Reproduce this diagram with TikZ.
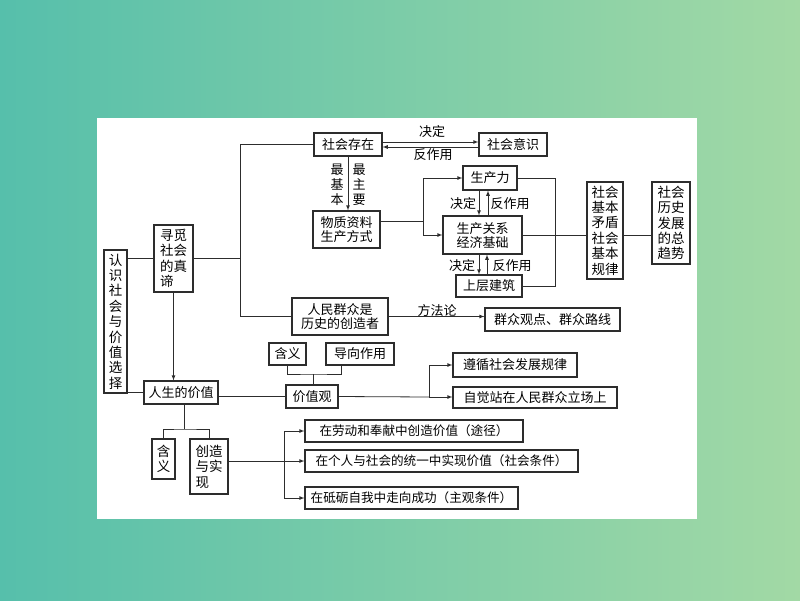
\documentclass[tikz,border=0pt]{standalone}
\usepackage{fontspec}
\newfontfamily\cjk{Noto Sans CJK SC}
\definecolor{bgleft}{RGB}{86,191,171}
\definecolor{bgright}{RGB}{162,217,165}
\definecolor{ink}{RGB}{45,45,45}
\begin{document}
\begin{tikzpicture}[x=1pt,y=1pt,>=latex,
		box/.style={draw=ink, line width=1.1pt, inner sep=1pt, align=center, text=black, font=\cjk\fontsize{13}{14}\selectfont},
		longbox/.style={box, font=\cjk\fontsize{12.6}{14}\selectfont},
		vbox/.style={box, font=\cjk\fontsize{13.5}{15.4}\selectfont},
		lbl/.style={inner sep=0pt, align=center, text=black, font=\cjk\fontsize{13}{15}\selectfont},
		link/.style={draw=ink, line width=0.8pt}]
		\useasboundingbox (0,0) rectangle (800,-600);
		\shade[left color=bgleft, right color=bgright] (0,0) rectangle (800,-600);
		\fill[white] (97,-118) rectangle (697,-519);
		\node[vbox, minimum width=23, minimum height=143] (renshi) at (115.5,-321.5) {认\\识\\社\\会\\与\\价\\值\\选\\择};
		\node[vbox, align=left, minimum width=39, minimum height=67] (xunmi) at (173.5,-258.5) {寻觅\\社会\\的真\\谛};
		\node[box, minimum width=68, minimum height=23] (cunzai) at (348,-144.5) {社会存在};
		\node[box, minimum width=68, minimum height=23] (yishi) at (513,-144.5) {社会意识};
		\node[box, minimum width=67, minimum height=37] (wuzhi) at (346.5,-229.5) {物质资料\\生产方式};
		\node[box, minimum width=54, minimum height=24] (shengchanli) at (490,-178) {生产力};
		\node[box, minimum width=79, minimum height=38] (guanxi) at (482.5,-235) {生产关系\\经济基础};
		\node[box, minimum width=66, minimum height=22] (shangceng) at (489,-286) {上层建筑};
		\node[vbox, minimum width=36, minimum height=97] (maodun) at (605,-230.5) {社会\\基本\\矛盾\\社会\\基本\\规律};
		\node[vbox, minimum width=38, minimum height=82] (qushi) at (671,-223) {社会\\历史\\发展\\的总\\趋势};
		\node[box, minimum width=96, minimum height=37] (renmin) at (340,-316.5) {人民群众是\\历史的创造者};
		\node[box, minimum width=135, minimum height=23] (qunzhong) at (552.5,-319.5) {群众观点、群众路线};
		\node[box, minimum width=37, minimum height=22] (hanyi1) at (287.5,-354) {含义};
		\node[box, minimum width=68, minimum height=22] (daoxiang) at (360,-354) {导向作用};
		\node[box, minimum width=52, minimum height=23] (jiazhiguan) at (312,-396.5) {价值观};
		\node[box, minimum width=124, minimum height=24] (zunxun) at (515,-365) {遵循社会发展规律};
		\node[box, minimum width=164, minimum height=21] (zijue) at (535,-397.5) {自觉站在人民群众立场上};
		\node[box, minimum width=74, minimum height=23] (rensheng) at (181,-392.5) {人生的价值};
		\node[vbox, minimum width=23, minimum height=40] (hanyi2) at (163.5,-459) {含\\义};
		\node[vbox, align=left, minimum width=38, minimum height=55] (chuangzao) at (209,-466.5) {创造\\与实\\现};
		\node[longbox, minimum width=218, minimum height=22] (laodong) at (414,-431) {在劳动和奉献中创造价值（途径）};
		\node[longbox, minimum width=273, minimum height=22] (geren) at (441.5,-461) {在个人与社会的统一中实现价值（社会条件）};
		\node[longbox, minimum width=213, minimum height=22] (dili) at (411.5,-498) {在砥砺自我中走向成功（主观条件）};
		\node[lbl] (jueding1) at (432,-132) {决定};
		\node[lbl] (fanzuo1) at (433,-155) {反作用};
		\node[lbl] (zuijiben) at (337,-185) {最\\基\\本};
		\node[lbl] (zuizhuyao) at (359,-185) {最\\主\\要};
		\node[lbl] (jueding2) at (463,-204) {决定};
		\node[lbl] (fanzuo2) at (510,-204) {反作用};
		\node[lbl] (jueding3) at (462,-266) {决定};
		\node[lbl] (fanzuo3) at (512,-266) {反作用};
		\node[lbl] (fangfalun) at (437,-311) {方法论};
		\coordinate (trunk) at (240,0);
		\coordinate (fork1) at (423,-221);
		\coordinate (join1) at (313,-374);
		\coordinate (fork2) at (429,-397);
		\coordinate (join2) at (184,-429);
		\coordinate (fork3) at (284,-461);
		\draw[link] (renshi.east |- xunmi.west) -- (xunmi.west);
		\draw[link] (renshi.east |- rensheng.west) -- (rensheng.west);
		\draw[link] (xunmi.east) -- (xunmi.east -| trunk);
		\draw[link] (cunzai.west) -- (cunzai.west -| trunk) -- (renmin.west -| trunk) -- (renmin.west);
		\draw[link,->] (xunmi.south) -- (xunmi.south |- rensheng.north);
		\draw[link,->] ([yshift=2.5]cunzai.east) -- ([yshift=2.5]yishi.west);
		\draw[link,->] ([yshift=-2.5]yishi.west) -- ([yshift=-2.5]cunzai.east);
		\draw[link,->] (cunzai.south) -- (cunzai.south |- wuzhi.north);
		\draw[link] ([yshift=8.5]wuzhi.east) -- (fork1);
		\draw[link,->] (fork1) |- (shengchanli.west);
		\draw[link,->] (fork1) |- (guanxi.west);
		\draw[link,->] ([xshift=-11]shengchanli.south) -- ([xshift=-11]shengchanli.south |- guanxi.north);
		\draw[link,->] ([xshift=-2]shengchanli.south |- guanxi.north) -- ([xshift=-2]shengchanli.south);
		\draw[link,->] ([xshift=-10]shangceng.north |- guanxi.south) -- ([xshift=-10]shangceng.north);
		\draw[link,->] ([xshift=-2]shangceng.north) -- ([xshift=-2]shangceng.north |- guanxi.south);
		\draw[link] (shengchanli.east) -- ++(38,0) |- (shangceng.east);
		\draw[link] (guanxi.east) -- (guanxi.east -| maodun.west);
		\draw[link] (maodun.east |- guanxi.east) -- (qushi.west |- guanxi.east);
		\draw[link,->] (renmin.east) -- (renmin.east -| qunzhong.west);
		\draw[link] (hanyi1.south) |- (join1) -| ([xshift=-19]daoxiang.south);
		\draw[link] (join1) -- (join1 |- jiazhiguan.north);
		\draw[link] (rensheng.east |- jiazhiguan.west) -- (jiazhiguan.west);
		\draw[link] (jiazhiguan.east) -- (fork2);
		\draw[link,->] (fork2) |- (zunxun.west);
		\draw[link,->] (fork2) -- (fork2 -| zijue.west);
		\draw[link] (rensheng.south -| join2) -- (join2);
		\draw[link] (hanyi2.north) |- (join2) -| (chuangzao.north);
		\draw[link] (chuangzao.east |- fork3) -- (fork3);
		\draw[link,->] (fork3) -- (geren.west);
		\draw[link,->] (fork3) |- (laodong.west);
		\draw[link,->] (fork3) |- (dili.west);
\end{tikzpicture}
\end{document}
